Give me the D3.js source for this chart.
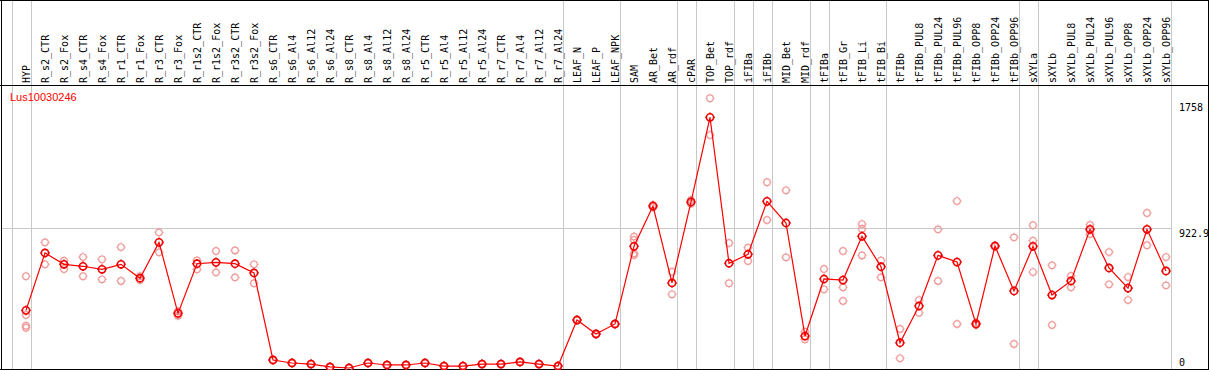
<!DOCTYPE html>
<html>
<head>
<meta charset="utf-8">
<script src="https://cdn.jsdelivr.net/npm/d3@7"></script>
<style>
  html, body { margin: 0; padding: 0; background: #fff; }
  svg { display: block; }
</style>
</head>
<body>
<div id="chart"></div>
<script>
const geneName = 'Lus10030246';

const samples = [
    'HYP',
    'R_s2_CTR', 'R_s2_Fox', 'R_s4_CTR', 'R_s4_Fox', 'R_r1_CTR', 'R_r1_Fox', 'R_r3_CTR', 'R_r3_Fox',
    'R_r1s2_CTR', 'R_r1s2_Fox', 'R_r3s2_CTR', 'R_r3s2_Fox',
    'R_s6_CTR', 'R_s6_Al4', 'R_s6_Al12', 'R_s6_Al24', 'R_s8_CTR', 'R_s8_Al4', 'R_s8_Al12', 'R_s8_Al24',
    'R_r5_CTR', 'R_r5_Al4', 'R_r5_Al12', 'R_r5_Al24', 'R_r7_CTR', 'R_r7_Al4', 'R_r7_Al12', 'R_r7_Al24',
    'LEAF_N', 'LEAF_P', 'LEAF_NPK',
    'SAM', 'AR_Bet', 'AR_rdf',
    'cPAR',
    'TOP_Bet', 'TOP_rdf',
    'iFIBa',
    'iFIBb',
    'MID_Bet', 'MID_rdf',
    'tFIBa',
    'tFIB_Gr', 'tFIB_Li', 'tFIB_Bi',
    'tFIBb', 'tFIBb_PUL8', 'tFIBb_PUL24', 'tFIBb_PUL96', 'tFIBb_OPP8', 'tFIBb_OPP24', 'tFIBb_OPP96',
    'sXYLa',
    'sXYLb', 'sXYLb_PUL8', 'sXYLb_PUL24', 'sXYLb_PUL96', 'sXYLb_OPP8', 'sXYLb_OPP24', 'sXYLb_OPP96'
];

// first sample of every group (a grey separator is drawn before each)
const groupStarts = ['HYP', 'R_s2_CTR', 'LEAF_N', 'SAM', 'cPAR', 'TOP_Bet', 'iFIBa', 'iFIBb',
    'MID_Bet', 'tFIBa', 'tFIB_Gr', 'tFIBb', 'sXYLa', 'sXYLb'];

const means = [
    381,
    760, 685, 672, 652, 685, 593, 830, 361,
    689, 698, 689, 628,
    53, 33, 26, 7, 0, 33, 20, 20,
    33, 13, 13, 26, 26, 40, 26, 13,
    317, 225, 291,
    804, 1070, 562,
    1097,
    1656, 692,
    751,
    1101,
    958, 211,
    588,
    581, 870, 669,
    167, 410, 744, 700, 291, 806, 509,
    804,
    482, 575, 916, 661, 528, 916, 641
];

const replicates = [
    [606, 350, 279, 266],
    [830, 685], [709, 654], [733, 606], [718, 586], [799, 575], [606, 581], [896, 764], [375, 346],
    [711, 652], [773, 632], [777, 599], [685, 560],
    [55, 50], [35, 31], [28, 24], [9, 5], [2, 0], [35, 31], [22, 18], [22, 18],
    [35, 31], [15, 11], [15, 11], [28, 24], [28, 24], [42, 38], [28, 24], [15, 11],
    [320, 314], [228, 222], [294, 288],
    [868, 846, 758, 747], [1078, 1062], [636, 487],
    [1110, 1085],
    [1782, 1539], [826, 560],
    [795, 707],
    [1227, 978],
    [1174, 731], [240, 190],
    [654, 520],
    [773, 533, 443], [951, 920, 744], [711, 599],
    [258, 64], [449, 365], [916, 575], [1103, 291], [300, 284], [810, 802], [863, 159],
    [943, 841, 634],
    [678, 284], [608, 533], [945, 885], [766, 553], [601, 449], [1024, 811], [733, 546]
];

const yTicks = [1758, 922.9, 0];
const gridValues = [922.9];

const W = 1209, H = 370;
const headerY = 85;
const bottomY = 369;

const svg = d3.select('#chart').append('svg')
    .attr('width', W)
    .attr('height', H)
    .attr('viewBox', `0 0 ${W} ${H}`);

const x = d3.scalePoint()
    .domain(samples)
    .range([26, 1166]);
const step = x.step();

const y = d3.scaleLinear()
    .domain([0, 922.9])
    .range([368, 228.3]);

// separators sit 14.5px left of a column centre
const sepX = name => x(name) - 14.5;
const separators = groupStarts.map(sepX).concat([x(samples[samples.length - 1]) + step - 14.5]);

const grid = svg.append('g').attr('shape-rendering', 'crispEdges');

grid.selectAll('line.vsep')
    .data(separators)
    .enter().append('line')
    .attr('class', 'vsep')
    .attr('x1', d => Math.round(d) + 0.5)
    .attr('x2', d => Math.round(d) + 0.5)
    .attr('y1', 0)
    .attr('y2', bottomY)
    .attr('stroke', '#c8c8c8')
    .attr('stroke-width', 1);

grid.selectAll('line.hgrid')
    .data(gridValues)
    .enter().append('line')
    .attr('class', 'hgrid')
    .attr('x1', 1)
    .attr('x2', separators[separators.length - 1] + 1)
    .attr('y1', d => Math.round(y(d)) + 0.5)
    .attr('y2', d => Math.round(y(d)) + 0.5)
    .attr('stroke', '#c8c8c8')
    .attr('stroke-width', 1);

// frame
const frame = svg.append('g').attr('shape-rendering', 'crispEdges')
    .attr('stroke', '#000').attr('stroke-width', 1);
frame.append('line').attr('x1', 0).attr('x2', W).attr('y1', 0.5).attr('y2', 0.5);
frame.append('line').attr('x1', 0).attr('x2', W).attr('y1', headerY + 0.5).attr('y2', headerY + 0.5);
frame.append('line').attr('x1', 0).attr('x2', W).attr('y1', bottomY + 0.5).attr('y2', bottomY + 0.5);
frame.append('line').attr('x1', 1.5).attr('x2', 1.5).attr('y1', 0).attr('y2', H);
frame.append('line').attr('x1', W - 0.5).attr('x2', W - 0.5).attr('y1', 0).attr('y2', H);

// column labels, reading bottom to top
svg.append('g').selectAll('text.col')
    .data(samples)
    .enter().append('text')
    .attr('class', 'col')
    .attr('transform', d => `translate(${x(d) + 3.8},83) rotate(-90)`)
    .attr('text-anchor', 'start')
    .style('font-family', '"DejaVu Sans Mono", monospace')
    .style('font-size', '10px')
    .attr('fill', '#000')
    .text(d => d);

// right value labels, top of text at the value
svg.append('g').selectAll('text.ytick')
    .data(yTicks)
    .enter().append('text')
    .attr('class', 'ytick')
    .attr('x', 1179)
    .attr('y', d => d === 0 ? 365.5 : y(d) + 9)
    .style('font-family', '"DejaVu Sans Mono", monospace')
    .style('font-size', '10px')
    .attr('fill', '#000')
    .text(d => d);

svg.append('text')
    .attr('x', 10)
    .attr('y', 101)
    .style('font-family', '"Liberation Sans", Arial, sans-serif')
    .style('font-size', '11px')
    .attr('fill', '#ff0000')
    .text(geneName);

// ring marker with little ticks at the four compass points
function markerPath(r, t) {
    const c = d3.path();
    c.moveTo(r, 0);
    c.arc(0, 0, r, 0, Math.PI * 2);
    c.moveTo(0, -r); c.lineTo(0, -r - t);
    c.moveTo(0, r); c.lineTo(0, r + t);
    c.moveTo(-r, 0); c.lineTo(-r - t, 0);
    c.moveTo(r, 0); c.lineTo(r + t, 0);
    return c.toString();
}

const repPoints = [];
samples.forEach((s, i) => replicates[i].forEach(v => repPoints.push({ s, v })));

const plot = svg.append('g');

plot.selectAll('path.rep')
    .data(repPoints)
    .enter().append('path')
    .attr('class', 'rep')
    .attr('d', markerPath(3.3, 1.2))
    .attr('transform', d => `translate(${x(d.s)},${y(d.v)})`)
    .attr('fill', 'none')
    .attr('stroke', '#f09a9a')
    .attr('stroke-width', 1.2);

const line = d3.line()
    .x((d, i) => x(samples[i]))
    .y(d => y(d));

plot.append('path')
    .datum(means)
    .attr('d', line)
    .attr('fill', 'none')
    .attr('stroke', '#ff0000')
    .attr('stroke-width', 1.2);

plot.selectAll('path.mean')
    .data(means)
    .enter().append('path')
    .attr('class', 'mean')
    .attr('d', markerPath(3.6, 1.2))
    .attr('transform', (d, i) => `translate(${x(samples[i])},${y(d)})`)
    .attr('fill', 'none')
    .attr('stroke', '#ee0000')
    .attr('stroke-width', 1.6);
</script>
</body>
</html>
